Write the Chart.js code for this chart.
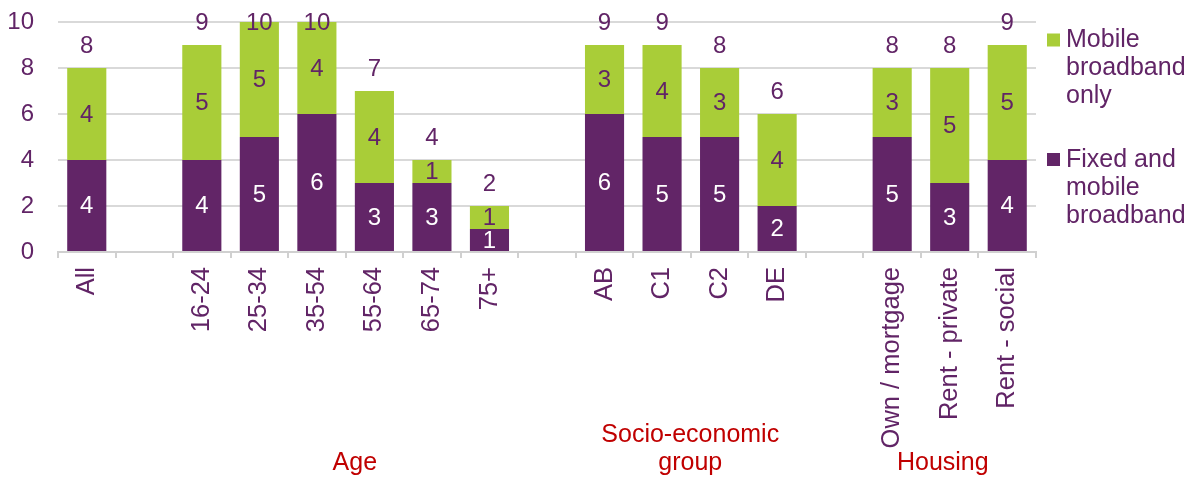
<!DOCTYPE html>
<html>
<head>
<meta charset="utf-8">
<script src="https://cdn.jsdelivr.net/npm/chart.js@4/dist/chart.umd.min.js"></script>
<style>
  body { margin: 0; background: #fff; }
  #wrap { width: 1197px; height: 480px; position: relative; }
</style>
</head>
<body>
<div id="wrap"><canvas id="chart"></canvas></div>
<script>
// categories (empty strings are the gaps between groups)
const categories = ['All', '', '16-24', '25-34', '35-54', '55-64', '65-74', '75+', '',
  'AB', 'C1', 'C2', 'DE', '', 'Own / mortgage', 'Rent - private', 'Rent - social'];
const fixedAndMobile = [4, null, 4, 5, 6, 3, 3, 1, null, 6, 5, 5, 2, null, 5, 3, 4];
const mobileOnly     = [4, null, 5, 5, 4, 4, 1, 1, null, 3, 4, 3, 4, null, 3, 5, 5];
const totals         = [8, null, 9, 10, 10, 7, 4, 2, null, 9, 9, 8, 6, null, 8, 8, 9];
const groupLabels = [['Age'], ['Socio-economic', 'group'], ['Housing']];
const seriesNames = [['Mobile', 'broadband', 'only'], ['Fixed and', 'mobile', 'broadband']];
const yTicks = [0, 2, 4, 6, 8, 10];

const PURPLE = '#622567';
const GREEN = '#a9cd38';
const TEXT = '#612466';
const RED = '#c00000';
const FONT = '"Liberation Sans", Arial, sans-serif';

const labelsPlugin = {
  id: 'labels',
  afterDatasetsDraw(chart) {
    const ctx = chart.ctx;
    const x = chart.scales.x;
    ctx.save();
    ctx.font = '24px ' + FONT;
    ctx.textAlign = 'center';
    ctx.textBaseline = 'middle';

    // values inside the segments
    [0, 1].forEach(di => {
      const meta = chart.getDatasetMeta(di);
      const data = chart.data.datasets[di].data;
      meta.data.forEach((el, i) => {
        if (data[i] == null) return;
        ctx.fillStyle = di === 0 ? '#ffffff' : TEXT;
        ctx.fillText(String(data[i]), el.x, (el.y + el.base) / 2 + 1);
      });
    });

    // totals above the bars
    const top = chart.getDatasetMeta(1);
    ctx.fillStyle = TEXT;
    top.data.forEach((el, i) => {
      if (totals[i] == null) return;
      ctx.fillText(String(totals[i]), el.x, Math.max(el.y - 22, 23));
    });

    // group labels under the axis
    ctx.fillStyle = RED;
    ctx.font = '25px ' + FONT;
    ctx.textBaseline = 'alphabetic';
    const groupPos = [4.66, 10.49, 14.88];
    groupLabels.forEach((lines, g) => {
      const gx = x.getPixelForValue(groupPos[g]);
      const baseY = 470 - (lines.length - 1) * 28;
      lines.forEach((t, k) => ctx.fillText(t, gx, baseY + k * 28));
    });

    // legend on the right
    const colors = [GREEN, PURPLE];
    const legendTop = [47, 166.5];
    ctx.textAlign = 'left';
    ctx.font = '25px ' + FONT;
    seriesNames.forEach((lines, s) => {
      ctx.fillStyle = colors[s];
      ctx.fillRect(1047, legendTop[s] - 13.5, 13, 13);
      ctx.fillStyle = TEXT;
      lines.forEach((t, k) => ctx.fillText(t, 1066, legendTop[s] + k * 28.2));
    });
    ctx.restore();
  }
};

new Chart(document.getElementById('chart'), {
  type: 'bar',
  data: {
    labels: categories,
    datasets: [
      { label: 'Fixed and mobile broadband', data: fixedAndMobile, backgroundColor: PURPLE,
        categoryPercentage: 1, barPercentage: 0.68 },
      { label: 'Mobile broadband only', data: mobileOnly, backgroundColor: GREEN,
        categoryPercentage: 1, barPercentage: 0.68 }
    ]
  },
  options: {
    responsive: true,
    maintainAspectRatio: false,
    animation: false,
    layout: { padding: { top: 22, right: 161, bottom: 0, left: 0 } },
    plugins: { legend: { display: false }, tooltip: { enabled: false } },
    scales: {
      x: {
        stacked: true,
        afterFit: s => { s.height = 228; },
        border: { color: '#d0d0d0', width: 2 },
        grid: { drawOnChartArea: false, drawTicks: true, tickLength: 6, color: '#d0d0d0', lineWidth: 2 },
        ticks: { autoSkip: false, minRotation: 90, maxRotation: 90, padding: 9,
          color: TEXT, font: { family: FONT, size: 25.5 } }
      },
      y: {
        stacked: true,
        min: 0,
        max: 10,
        afterFit: s => { s.width = 58; },
        afterBuildTicks: s => { s.ticks = yTicks.map(v => ({ value: v })); },
        border: { display: false },
        grid: { color: '#d9d9d9', lineWidth: 2, drawTicks: true, tickLength: 22, tickColor: 'rgba(0,0,0,0)' },
        ticks: { padding: 2, color: TEXT, font: { family: FONT, size: 24 } }
      }
    }
  },
  plugins: [labelsPlugin]
});
</script>
</body>
</html>
